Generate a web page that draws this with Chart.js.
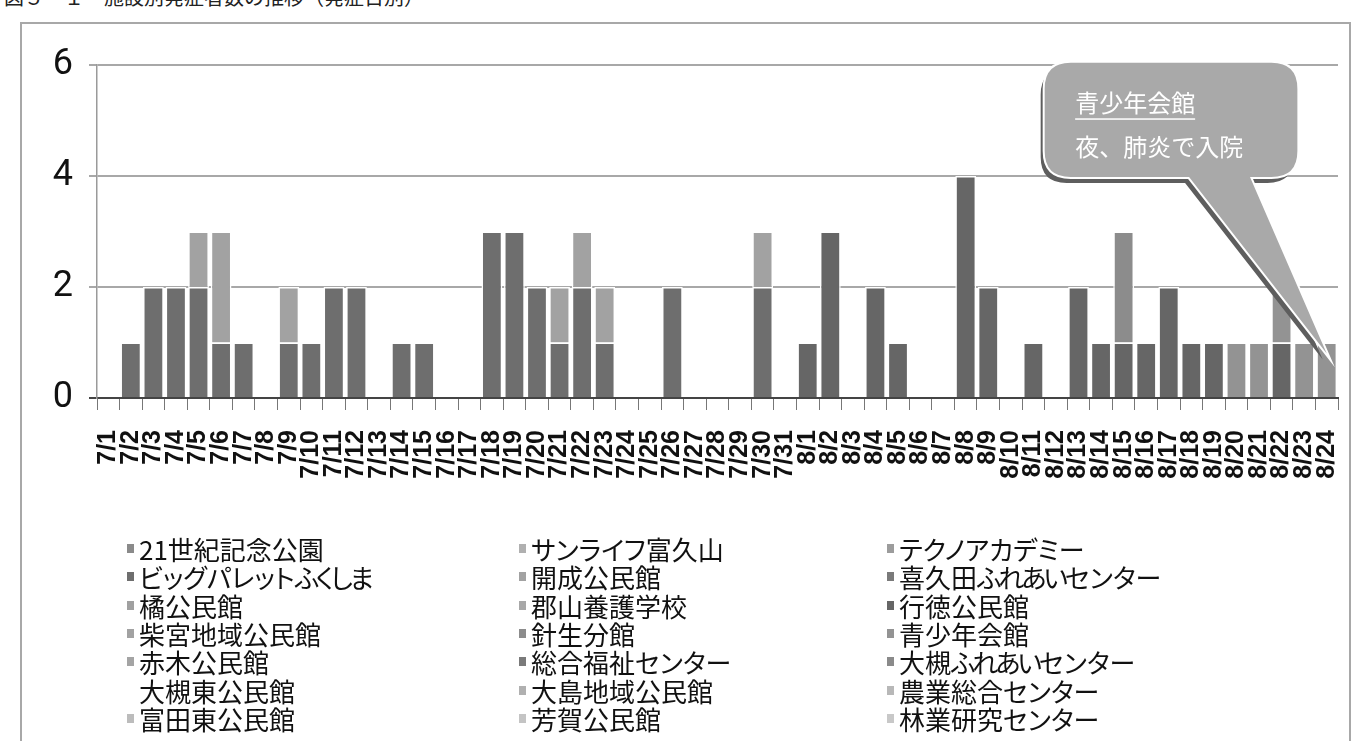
<!DOCTYPE html>
<html lang="ja">
<head>
<meta charset="UTF-8">
<title>施設別発症者数</title>
<script src="https://cdn.jsdelivr.net/npm/chart.js"></script>
<style>
    body {
        margin: 0;
        width: 1355px;
        height: 741px;
        overflow: hidden;
        position: relative;
        background: #fff;
        font-family: "Noto Sans CJK JP", sans-serif;
    }
    .caption {
        position: absolute;
        left: 4px;
        top: -18px;
        font-size: 20px;
        color: #222;
        white-space: nowrap;
    }
    .frame {
        position: absolute;
        left: 20px;
        top: 22px;
        width: 1327px;
        height: 740px;
        border: 2px solid #a8a8a8;
    }
    #chartBox {
        position: absolute;
        left: 20px;
        top: 22px;
    }
    .legend-item {
        position: absolute;
        font-size: 26px;
        line-height: 28px;
        white-space: nowrap;
        font-feature-settings: "palt";
        color: #111;
    }
    .legend-item .kana {
        letter-spacing: -3px;
    }
    .legend-item i {
        display: inline-block;
        width: 7px;
        height: 9px;
        margin-right: 5px;
        position: relative;
        top: -7px;
    }
</style>
</head>
<body>
<div class="caption">図５－１　施設別発症者数の推移（発症日別）</div>
<div class="frame"></div>
<canvas id="chartBox" width="1330" height="515"></canvas>
<div id="legend"></div>
<script>
// 日付（7/1〜8/24）
const dates = [
    '7/1','7/2','7/3','7/4','7/5','7/6','7/7','7/8','7/9','7/10',
    '7/11','7/12','7/13','7/14','7/15','7/16','7/17','7/18','7/19','7/20',
    '7/21','7/22','7/23','7/24','7/25','7/26','7/27','7/28','7/29','7/30','7/31',
    '8/1','8/2','8/3','8/4','8/5','8/6','8/7','8/8','8/9','8/10',
    '8/11','8/12','8/13','8/14','8/15','8/16','8/17','8/18','8/19','8/20',
    '8/21','8/22','8/23','8/24'
];

const seriesNames = [
    '21世紀記念公園', 'サンライフ富久山', 'テクノアカデミー',
    'ビッグパレットふくしま', '開成公民館', '喜久田ふれあいセンター',
    '橘公民館', '郡山養護学校', '行徳公民館',
    '柴宮地域公民館', '針生分館', '青少年会館',
    '赤木公民館', '総合福祉センター', '大槻ふれあいセンター',
    '大槻東公民館', '大島地域公民館', '農業総合センター',
    '富田東公民館', '芳賀公民館', '林業研究センター'
];

const seriesColors = [
    '#8a8a8a', '#b0b0b0', '#9c9c9c',
    '#6e6e6e', '#a2a2a2', '#7a7a7a',
    '#a0a0a0', '#a8a8a8', '#666666',
    '#a2a2a2', '#8c8c8c', '#939393',
    '#a4a4a4', '#7a7a7a', '#8a8a8a',
    '#ffffff', '#b0b0b0', '#b8b8b8',
    '#bcbcbc', '#c4c4c4', '#c8c8c8'
];

// 件数（読み取り値）
const bigPalette = [
    0,1,2,2,2,1,1,0,1,1, 2,2,0,1,1,0,0,3,3,2, 1,2,1,0,0,2,0,0,0,2,0,
    0,0,0,0,0,0,0,0,0,0, 0,0,0,0,0,0,0,0,0,0, 0,0,0,0
];
const gyotoku = [
    0,0,0,0,0,0,0,0,0,0, 0,0,0,0,0,0,0,0,0,0, 0,0,0,0,0,0,0,0,0,0,0,
    1,3,0,2,1,0,0,4,2,0, 1,0,2,1,1,1,2,1,1,0, 0,1,0,0
];
const shibamiya = [
    0,0,0,0,1,2,0,0,1,0, 0,0,0,0,0,0,0,0,0,0, 1,1,1,0,0,0,0,0,0,1,0,
    0,0,0,0,0,0,0,0,0,0, 0,0,0,0,0,0,0,0,0,0, 0,0,0,0
];
const harinyu = [
    0,0,0,0,0,0,0,0,0,0, 0,0,0,0,0,0,0,0,0,0, 0,0,0,0,0,0,0,0,0,0,0,
    0,0,0,0,0,0,0,0,0,0, 0,0,0,0,2,0,0,0,0,0, 0,0,0,0
];
const seishonen = [
    0,0,0,0,0,0,0,0,0,0, 0,0,0,0,0,0,0,0,0,0, 0,0,0,0,0,0,0,0,0,0,0,
    0,0,0,0,0,0,0,0,0,0, 0,0,0,0,0,0,0,0,0,1, 1,1,1,1
];

const seriesData = {
    'ビッグパレットふくしま': bigPalette,
    '行徳公民館': gyotoku,
    '柴宮地域公民館': shibamiya,
    '針生分館': harinyu,
    '青少年会館': seishonen
};

const yTicks = [0, 2, 4, 6];

const datasets = seriesNames.map((name, i) => ({
    label: name,
    data: seriesData[name] || [],
    backgroundColor: seriesColors[i],
    borderColor: '#ffffff',
    borderWidth: 1.5,
    borderSkipped: 'start',
    categoryPercentage: 1,
    barPercentage: 0.92
}));

// 吹き出し
const calloutPlugin = {
    id: 'callout',
    afterDatasetsDraw(chart) {
        const ctx = chart.ctx;
        const x = chart.scales.x, y = chart.scales.y;
        const L = x.getPixelForValue(41.5), R = x.getPixelForValue(52.7);
        const T = y.getPixelForValue(6.04), B = y.getPixelForValue(3.98);
        const t1 = x.getPixelForValue(47.9), t2 = x.getPixelForValue(50.6);
        const tipX = x.getPixelForValue(54), tipY = y.getPixelForValue(0.8);
        const r = 26;

        function shape(dx, dy) {
            ctx.beginPath();
            ctx.moveTo(L + r + dx, T + dy);
            ctx.lineTo(R - r + dx, T + dy);
            ctx.quadraticCurveTo(R + dx, T + dy, R + dx, T + r + dy);
            ctx.lineTo(R + dx, B - r + dy);
            ctx.quadraticCurveTo(R + dx, B + dy, R - r + dx, B + dy);
            ctx.lineTo(t2 + dx, B + dy);
            ctx.lineTo(tipX + dx, tipY + dy);
            ctx.lineTo(t1 + dx, B + dy);
            ctx.lineTo(L + r + dx, B + dy);
            ctx.quadraticCurveTo(L + dx, B + dy, L + dx, B - r + dy);
            ctx.lineTo(L + dx, T + r + dy);
            ctx.quadraticCurveTo(L + dx, T + dy, L + r + dx, T + dy);
            ctx.closePath();
        }

        ctx.save();
        shape(-4, 6);
        ctx.fillStyle = '#5e5e5e';
        ctx.fill();
        shape(0, 0);
        ctx.lineWidth = 4;
        ctx.strokeStyle = '#ffffff';
        ctx.stroke();
        ctx.fillStyle = '#a9a9a9';
        ctx.fill();

        ctx.fillStyle = '#ffffff';
        ctx.font = '24px "Noto Sans CJK JP"';
        ctx.textBaseline = 'middle';
        const tx = x.getPixelForValue(42.85);
        const y1 = y.getPixelForValue(5.31), y2 = y.getPixelForValue(4.52);
        ctx.fillText('青少年会館', tx, y1);
        const w = ctx.measureText('青少年会館').width;
        ctx.fillRect(tx, y1 + 15, w, 1.5);
        ctx.fillText('夜、肺炎で入院', tx, y2);
        ctx.restore();
    }
};

const chart = new Chart(document.getElementById('chartBox'), {
    type: 'bar',
    data: { labels: dates, datasets: datasets },
    options: {
        responsive: false,
        animation: false,
        layout: { padding: { left: 0, right: 12, top: 43, bottom: 0 } },
        plugins: { legend: { display: false }, tooltip: { enabled: false } },
        scales: {
            x: {
                stacked: true,
                offset: true,
                grid: {
                    offset: true,
                    drawOnChartArea: false,
                    drawTicks: true,
                    tickLength: 12,
                    color: '#777',
                    lineWidth: 1
                },
                border: { display: true, color: '#444', width: 2 },
                ticks: {
                    autoSkip: false,
                    minRotation: 90,
                    maxRotation: 90,
                    padding: 20,
                    color: '#111',
                    font: { family: 'Liberation Sans', size: 25, weight: 'bold' }
                },
                afterFit(scale) {
                    scale.height = 139;
                    scale.paddingLeft = 0;
                    scale.paddingRight = 0;
                }
            },
            y: {
                stacked: true,
                min: 0,
                max: 6,
                afterBuildTicks(scale) { scale.ticks = yTicks.map(v => ({ value: v })); },
                grid: {
                    color: ctx => ctx.tick && ctx.tick.value === 0 ? '#444' : '#a8a8a8',
                    lineWidth: 2,
                    tickLength: 8
                },
                border: { display: true, color: '#9a9a9a', width: 1.5 },
                ticks: {
                    padding: 16,
                    color: '#111',
                    font: { family: 'Roboto', size: 36 }
                },
                afterFit(scale) { scale.width = 77; }
            }
        }
    },
    plugins: [calloutPlugin]
});

// 凡例（3列）
const legendBox = document.getElementById('legend');
const colX = [127, 519, 887];
chart.data.datasets.forEach((ds, i) => {
    const item = document.createElement('div');
    item.className = 'legend-item';
    item.style.left = colX[i % 3] + 'px';
    item.style.top = (535 + Math.floor(i / 3) * 28.3) + 'px';
    const text = ds.label.replace(/([\u3041-\u309f]+)/g, '<span class="kana">$1</span>');
    item.innerHTML = '<i style="background:' + ds.backgroundColor + '"></i>' + text;
    legendBox.appendChild(item);
});
</script>
</body>
</html>
